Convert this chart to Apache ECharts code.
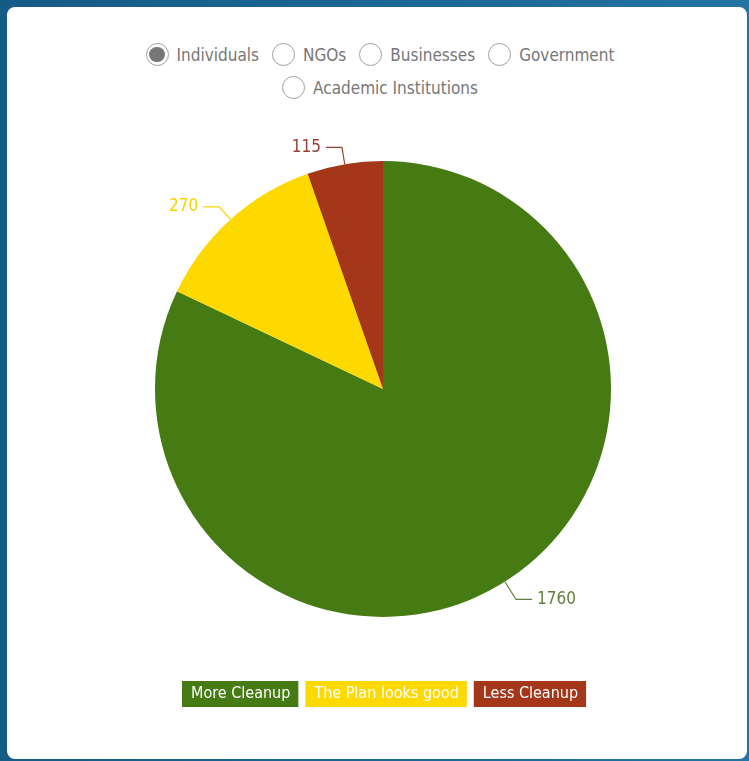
<!DOCTYPE html>
<html>
<head>
<meta charset="utf-8">
<script src="https://cdn.jsdelivr.net/npm/echarts@6/dist/echarts.min.js"></script>
<style>
  html, body { margin:0; padding:0; width:749px; height:761px; overflow:hidden;
    background: linear-gradient(90deg, #165a86 0%, #2373a3 100%); }
  #panel { position:absolute; left:7px; top:7px; width:740px; height:752px; background:#fff; border-radius:8px; }
  #chart { position:absolute; left:0; top:0; width:749px; height:761px; }
  .radios { position:absolute; left:0; width:760px; text-align:center; font-family:"DejaVu Sans Condensed",sans-serif; font-size:17px; color:#777; }
  .radio { display:inline-flex; align-items:center; margin:0 6.5px; }
  .dot { width:23px; height:23px; border:1.3px solid #a0a0a0; border-radius:50%; box-sizing:border-box; margin-right:8px; background:#fff; position:relative; }
  .dot.on::after { content:""; position:absolute; left:2.5px; top:2.5px; width:15.5px; height:15.5px; border-radius:50%; background:#777; }
</style>
</head>
<body>
<div id="panel"></div>
<div class="radios" id="row1" style="top:43px;"></div>
<div class="radios" id="row2" style="top:76px;"></div>
<div id="chart"></div>
<script>
const groups1 = ["Individuals", "NGOs", "Businesses", "Government"];
const groups2 = ["Academic Institutions"];
const categories = ["More Cleanup", "The Plan looks good", "Less Cleanup"];
const values = [1760, 270, 115];
const colors = ["#467a12", "#fdd900", "#a4361a"];
const labelColors = ["#5f7f3c", "#f5d300", "#9a3d30"];

function addRadios(id, list, startIdx) {
  const el = document.getElementById(id);
  list.forEach((g, i) => {
    const s = document.createElement('span');
    s.className = 'radio';
    s.innerHTML = '<span class="dot' + (startIdx + i === 0 ? ' on' : '') + '"></span>' + g;
    el.appendChild(s);
  });
}
addRadios('row1', groups1, 0);
addRadios('row2', groups2, groups1.length);

const chart = echarts.init(document.getElementById('chart'));
const font = '"DejaVu Sans Condensed",sans-serif';
chart.setOption({
  animation: false,
  legend: {
    top: 676,
    left: 172,
    itemWidth: 0,
    itemHeight: 0,
    itemGap: 2,
    selectedMode: false,
    icon: 'rect',
    data: categories.map((c, i) => ({
      name: c,
      textStyle: { color: '#fff', backgroundColor: colors[i], padding: [5, 8, 5, 9], fontSize: 16, fontFamily: font }
    }))
  },
  series: [{
    type: 'pie',
    center: [383, 389],
    radius: [0, 228],
    startAngle: 90,
    clockwise: true,
    data: categories.map((c, i) => ({
      name: c, value: values[i],
      itemStyle: { color: colors[i] },
      label: { color: labelColors[i] },
      labelLine: { length: i === 0 ? 21 : 17, lineStyle: { color: labelColors[i] } }
    })),
    label: { show: true, formatter: '{c}', fontSize: 17, fontFamily: font },
    labelLine: { show: true, length: 17, length2: 16, lineStyle: { width: 1.2 } },
    emphasis: { disabled: true }
  }]
});
</script>
</body>
</html>
